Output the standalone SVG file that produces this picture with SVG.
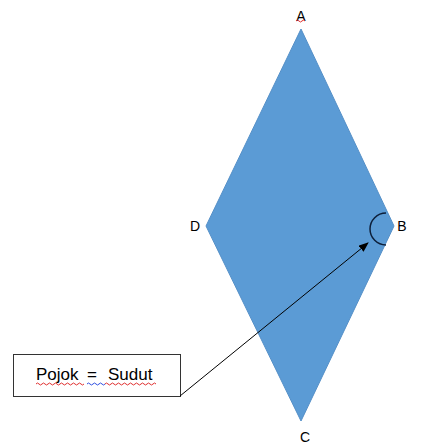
<svg xmlns="http://www.w3.org/2000/svg" width="427" height="444" viewBox="0 0 427 444">
<style>
.lbl{font-family:"Liberation Sans",Arial,sans-serif;font-size:14px;fill:#000}
.box{font-family:"Liberation Sans",Arial,sans-serif;font-size:17px;fill:#000}
.sq{fill:none;stroke-width:1}
</style>
<defs>
<marker id="ah" markerWidth="10" markerHeight="8" refX="9" refY="4" orient="auto" markerUnits="userSpaceOnUse">
<path d="M0,0 L10,4 L0,8 z" fill="#000"/>
</marker>
</defs>
<rect width="427" height="444" fill="#fff"/>
<g id="rhombus">
<polygon points="301,29 394,226 301,421 206,226" fill="#5B9BD5" stroke="#5590c8" stroke-width="1"/>
<path d="M386,213 A16,16 0 0 0 386,245" fill="none" stroke="#0d1f3a" stroke-width="1.5"/>
</g>
<g id="labels">
<text class="lbl" x="301" y="21" text-anchor="middle">A</text>
<text class="lbl" x="195" y="231" text-anchor="middle">D</text>
<text class="lbl" x="402" y="231" text-anchor="middle">B</text>
<text class="lbl" x="305" y="442" text-anchor="middle">C</text>
</g>
<g id="box">
<rect x="13.5" y="354.5" width="167" height="42" fill="#fff" stroke="#333" stroke-width="1"/>
<text class="box" y="380"><tspan x="36">Pojok</tspan><tspan x="87">=</tspan><tspan x="108">Sudut</tspan></text>
<path class="sq" stroke="#e03030" d="M36,384 q1.5,-2 3,0 t3,0 t3,0 t3,0 t3,0 t3,0 t3,0 t3,0 t3,0 t3,0 t3,0 t3,0 t3,0 t3,0 t3,0 t3,0"/>
<path class="sq" stroke="#3050e0" d="M87,384 q1.5,-2 3,0 t3,0 t3,0 t3,0 t3,0 t3,0"/>
<path class="sq" stroke="#e03030" d="M105,384 q1.5,-2 3,0 t3,0 t3,0 t3,0 t3,0 t3,0 t3,0 t3,0 t3,0 t3,0 t3,0 t3,0 t3,0 t3,0 t3,0 t3,0 t3,0"/>
<path class="sq" stroke="#e03030" d="M296,21 q1.5,-2 3,0 t3,0 t3,0"/>
</g>
<g id="connectors">
<line x1="180" y1="396" x2="368" y2="243" stroke="#000" stroke-width="1" marker-end="url(#ah)"/>
</g>
</svg>
